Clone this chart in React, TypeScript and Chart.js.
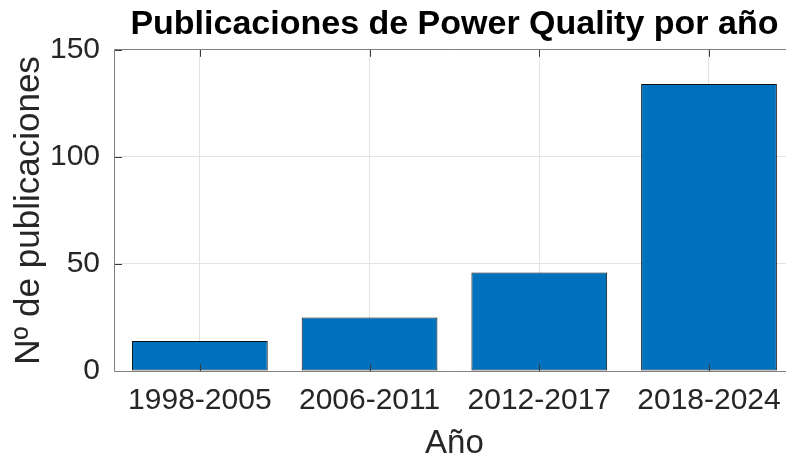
import React, { useEffect, useRef } from "react";
import { Chart, registerables } from "chart.js";

Chart.register(...registerables);

const categories = ["1998-2005", "2006-2011", "2012-2017", "2018-2024"];
const publications = [14, 25, 46, 134];
const yTicks = [0, 50, 100, 150];
const titleText = "Publicaciones de Power Quality por año";
const xTitle = "Año";
const yTitle = "Nº de publicaciones";

const FONT = "'Liberation Sans', Arial, Helvetica, sans-serif";

const boxPlugin = {
  id: "matlabBox",
  afterDatasetsDraw(chart: any) {
    const { ctx, chartArea, scales } = chart;
    const { left, right, top, bottom } = chartArea;
    ctx.save();
    ctx.strokeStyle = "#3a3a3a";
    ctx.lineWidth = 1;
    const len = 7;
    ctx.beginPath();
    scales.x.ticks.forEach((_t: any, i: number) => {
      const px = Math.round(scales.x.getPixelForTick(i)) + 0.5;
      ctx.moveTo(px, bottom);
      ctx.lineTo(px, bottom - len);
      ctx.moveTo(px, top);
      ctx.lineTo(px, top + len);
    });
    scales.y.ticks.forEach((_t: any, i: number) => {
      const py = Math.round(scales.y.getPixelForTick(i)) + 0.5;
      ctx.moveTo(left, py);
      ctx.lineTo(left + len, py);
    });
    ctx.stroke();
    ctx.strokeStyle = "#808080";
    ctx.beginPath();
    ctx.moveTo(Math.round(left) - 0.5, Math.round(bottom) + 0.5);
    ctx.lineTo(Math.round(left) - 0.5, Math.round(top) - 0.5);
    ctx.lineTo(Math.round(right) + 0.5, Math.round(top) - 0.5);
    ctx.lineTo(Math.round(right) + 0.5, Math.round(bottom) + 0.5);
    ctx.lineTo(Math.round(left) - 0.5, Math.round(bottom) + 0.5);
    ctx.stroke();
    ctx.restore();
  },
};

export default function App() {
  const ref = useRef<HTMLCanvasElement | null>(null);
  useEffect(() => {
    if (!ref.current) return;
    const chart = new Chart(ref.current, {
      type: "bar",
      data: {
        labels: categories,
        datasets: [
          {
            data: publications,
            backgroundColor: "#0072BD",
            borderColor: "#111111",
            borderWidth: 1,
            borderSkipped: false,
            barPercentage: 0.8,
            categoryPercentage: 1,
          },
        ],
      },
      plugins: [boxPlugin],
      options: {
        animation: false,
        responsive: false,
        maintainAspectRatio: false,
        layout: { padding: 0 },
        plugins: {
          legend: { display: false },
          tooltip: { enabled: false },
          title: {
            display: true,
            text: titleText,
            fullSize: false,
            color: "#000",
            font: { family: FONT, size: 34, weight: "bold", lineHeight: 1.2 },
            padding: { top: 4, bottom: 5 },
          },
        },
        scales: {
          x: {
            offset: true,
            grid: { offset: false, color: "#e3e3e3", drawTicks: false },
            border: { display: false },
            ticks: {
              color: "#262626",
              padding: 15,
              font: { family: FONT, size: 30, lineHeight: 1 },
              maxRotation: 0,
              autoSkip: false,
            },
            title: {
              display: true,
              text: xTitle,
              color: "#262626",
              font: { family: FONT, size: 33, lineHeight: 1 },
              padding: { top: 0, bottom: 1 },
            },
            afterFit(scale: any) {
              scale.height = 90;
            },
          },
          y: {
            min: 0,
            max: 150,
            afterBuildTicks(scale: any) {
              scale.ticks = yTicks.map((v) => ({ value: v }));
            },
            grid: { color: "#e3e3e3", drawTicks: false },
            border: { display: false },
            ticks: {
              color: "#262626",
              padding: 15,
              font: { family: FONT, size: 30, lineHeight: 1 },
            },
            title: {
              display: true,
              text: yTitle,
              color: "#262626",
              font: { family: FONT, size: 35, lineHeight: 1 },
              padding: { top: 12, bottom: 0 },
            },
            afterFit(scale: any) {
              scale.width = 115;
            },
          },
        },
      },
    });
    return () => chart.destroy();
  }, []);
  return (
    <div
      style={{
        position: "fixed",
        left: 0,
        top: 0,
        width: 786,
        height: 461,
        overflow: "hidden",
        background: "#fff",
      }}
    >
      <canvas ref={ref} width={796} height={461} style={{ display: "block", width: 796, height: 461 }} />
    </div>
  );
}
